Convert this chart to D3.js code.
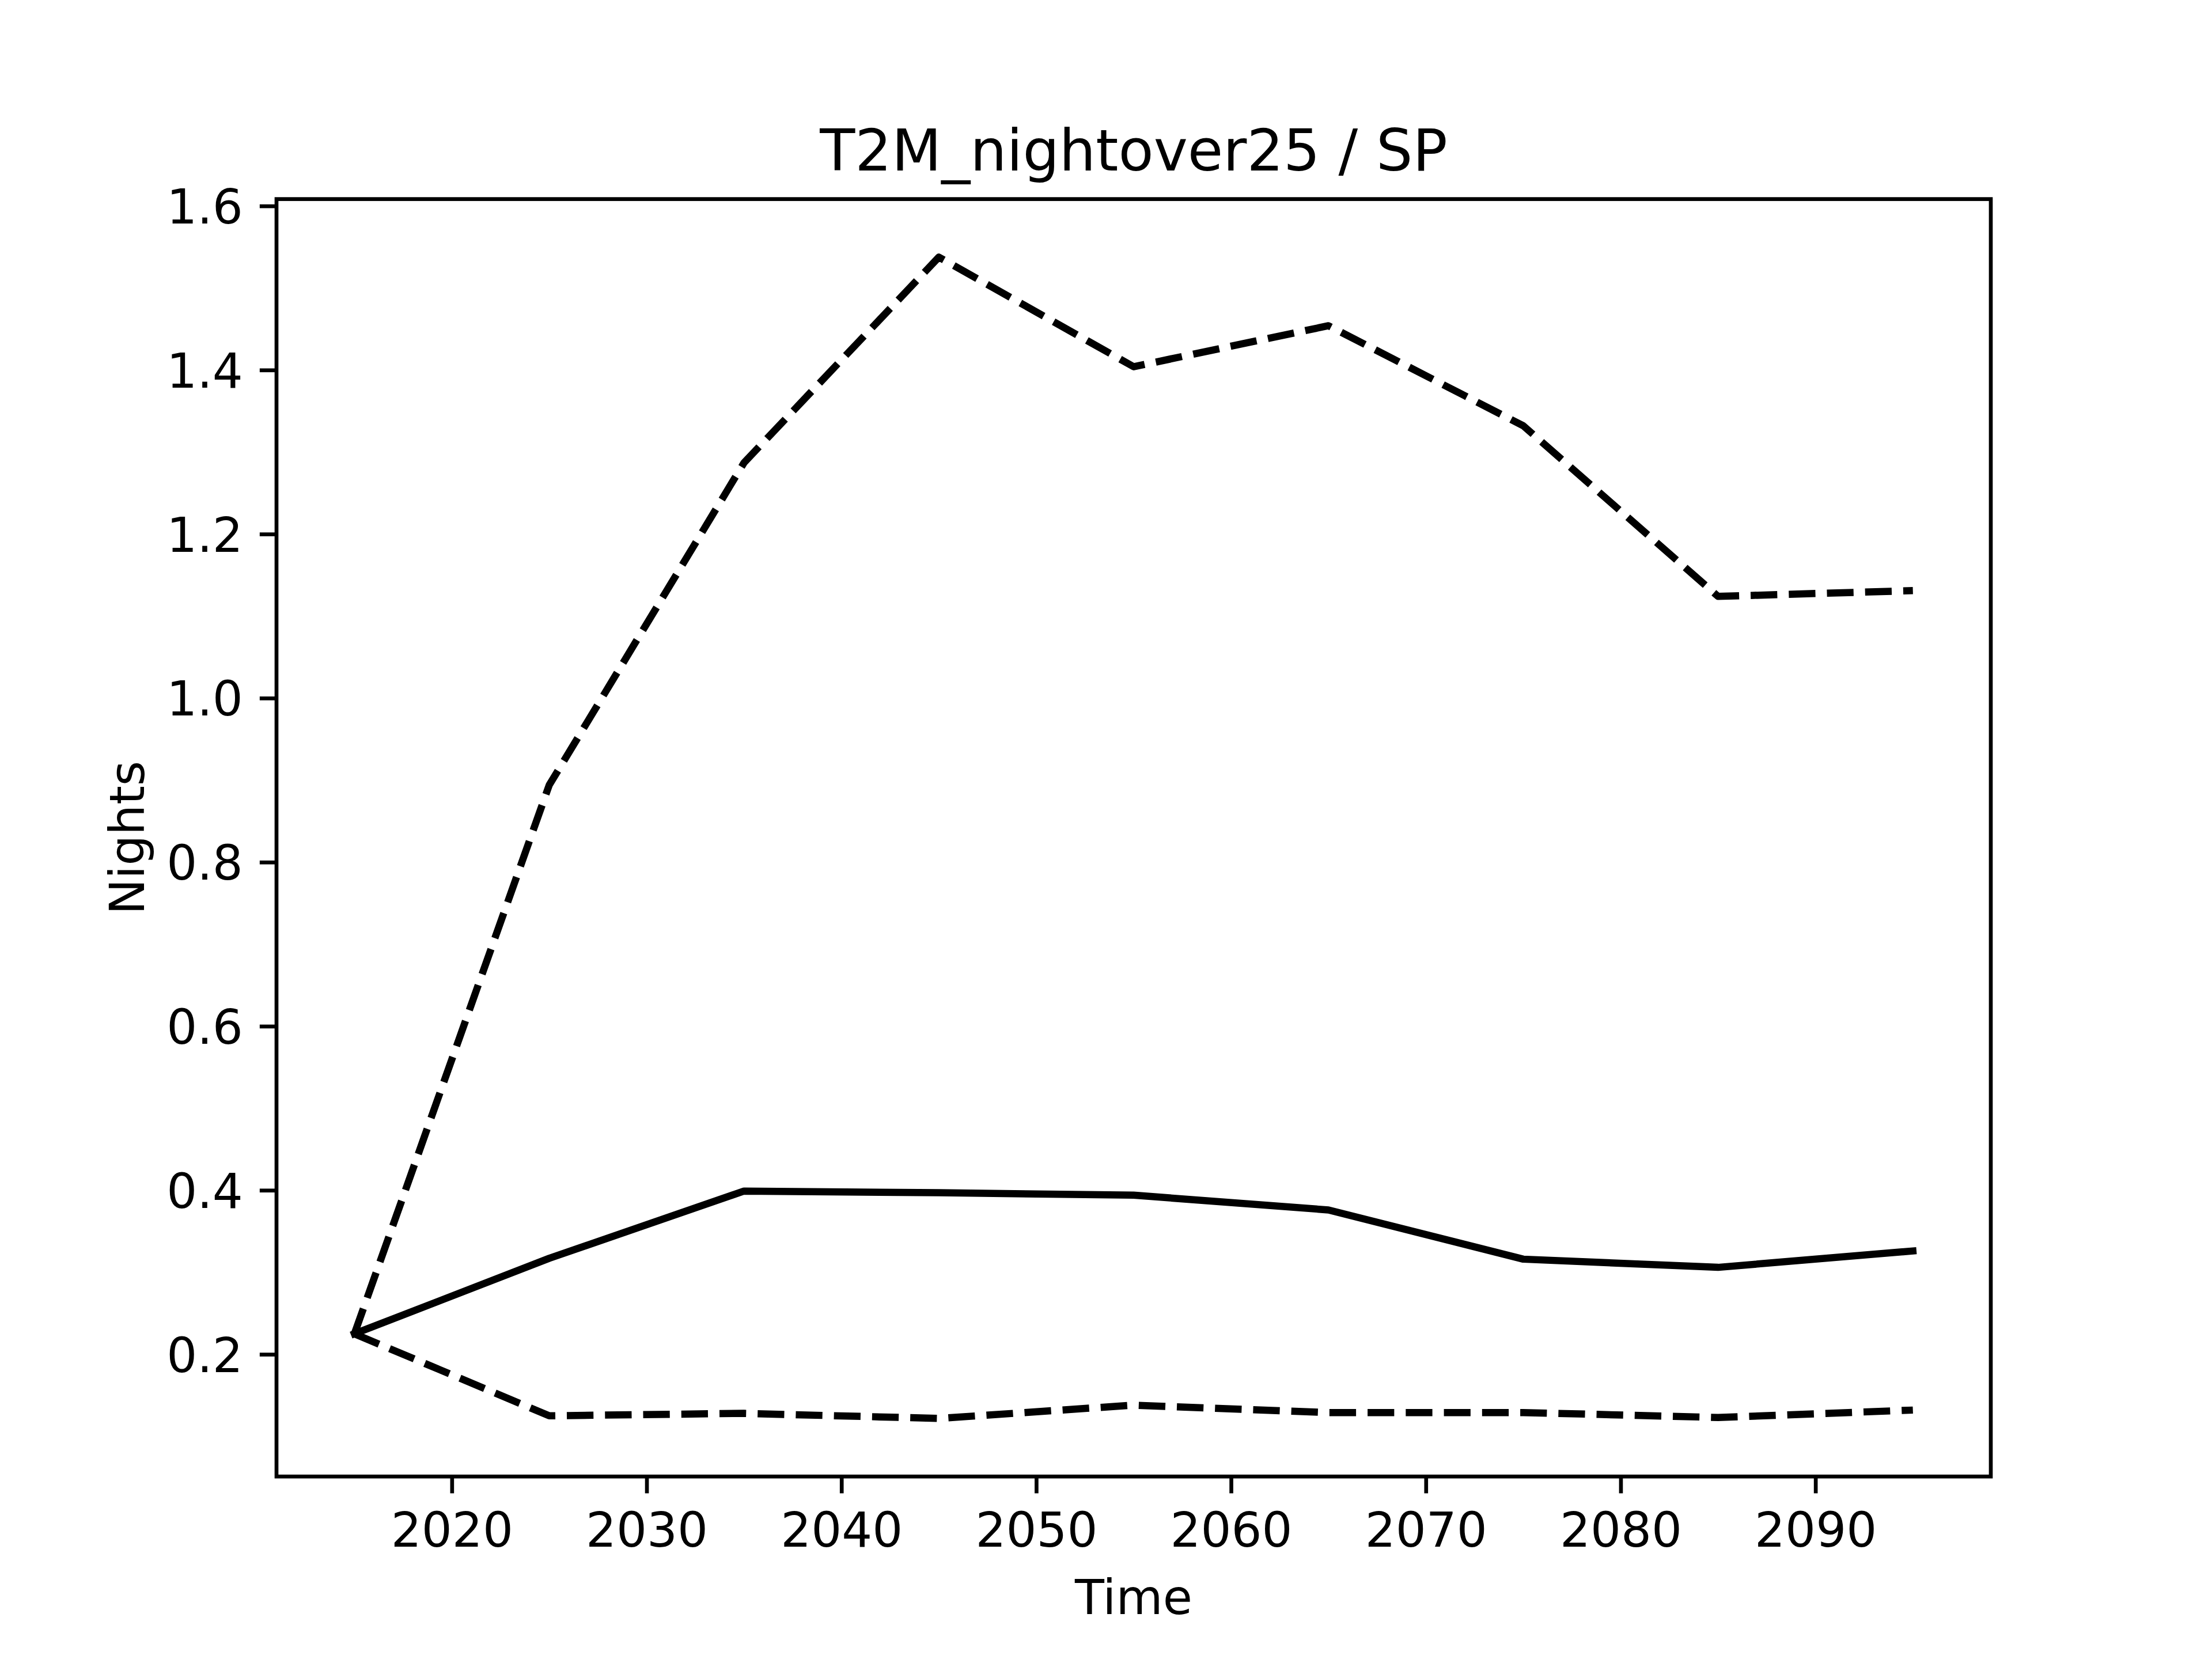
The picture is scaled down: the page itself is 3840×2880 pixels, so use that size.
<!DOCTYPE html>
<html><head><meta charset="utf-8">
<script src="https://cdn.jsdelivr.net/npm/d3@7"></script>
<style>html,body{margin:0;padding:0;background:#fff;}</style>
</head><body>
<script>
const years = [2015, 2025, 2035, 2045, 2055, 2065, 2075, 2085, 2095];
const meanVals = [0.225, 0.317, 0.399, 0.397, 0.394, 0.376, 0.316, 0.306, 0.326];
const upperVals = [0.225, 0.894, 1.287, 1.5376, 1.404, 1.454, 1.332, 1.124, 1.131];
const lowerVals = [0.225, 0.125, 0.128, 0.1218, 0.138, 0.129, 0.129, 0.123, 0.132];
const xTicks = [2020, 2030, 2040, 2050, 2060, 2070, 2080, 2090];
const yTicks = [0.2, 0.4, 0.6, 0.8, 1.0, 1.2, 1.4, 1.6];
const titleText = "T2M_nightover25 / SP";
const xLabel = "Time";
const yLabel = "Nights";

const W = 3840, H = 2880;
const L = 480, R = 3456, T = 345.6, B = 2563.2;
const pt = 600/72;
const font = "DejaVu Sans, sans-serif";

const svg = d3.select("body").append("svg").attr("width", W).attr("height", H)
  .style("display","block").style("background","#fff");

const allVals = meanVals.concat(upperVals, lowerVals);
const xmin = d3.min(years), xmax = d3.max(years);
const ymin = d3.min(allVals), ymax = d3.max(allVals);
const xm = (xmax - xmin) * 0.05, ym = (ymax - ymin) * 0.05;
const x = d3.scaleLinear().domain([xmin - xm, xmax + xm]).range([L, R]);
const y = d3.scaleLinear().domain([ymin - ym, ymax + ym]).range([B, T]);

const line = d3.line().x((d, i) => x(years[i])).y(d => y(d));
const g = svg.append("g");
const lw = 1.5 * pt;
g.append("path").attr("d", line(upperVals)).attr("fill","none").attr("stroke","#000")
  .attr("stroke-width", lw).attr("stroke-dasharray", `${3.7*lw} ${1.6*lw}`)
  .attr("stroke-linecap","butt").attr("stroke-linejoin","round");
g.append("path").attr("d", line(lowerVals)).attr("fill","none").attr("stroke","#000")
  .attr("stroke-width", lw).attr("stroke-dasharray", `${3.7*lw} ${1.6*lw}`)
  .attr("stroke-linecap","butt").attr("stroke-linejoin","round");
g.append("path").attr("d", line(meanVals)).attr("fill","none").attr("stroke","#000")
  .attr("stroke-width", lw).attr("stroke-linecap","square").attr("stroke-linejoin","round");

const fs = 10 * pt;
const tickLen = 3.5 * pt, tickW = 0.8 * pt, pad = 3.5 * pt;

const xAxis = svg.append("g").attr("transform", `translate(0,${B})`)
  .call(d3.axisBottom(x).tickValues(xTicks).tickFormat(d3.format("d")).tickSize(tickLen).tickPadding(pad));
const yAxis = svg.append("g").attr("transform", `translate(${L},0)`)
  .call(d3.axisLeft(y).tickValues(yTicks).tickFormat(d3.format(".1f")).tickSize(tickLen).tickPadding(pad));
[xAxis, yAxis].forEach(a => {
  a.select(".domain").remove();
  a.selectAll(".tick line").attr("stroke","#000").attr("stroke-width", tickW);
  a.selectAll(".tick text").attr("font-family", font).attr("font-size", fs).attr("fill","#000");
});
xAxis.selectAll(".tick text").attr("dy", "0.76em");
yAxis.selectAll(".tick text").attr("dy", "0.36em");

svg.append("rect").attr("x", L).attr("y", T).attr("width", R - L).attr("height", B - T)
  .attr("fill","none").attr("stroke","#000").attr("stroke-width", tickW);

svg.append("text").attr("x", (L + R) / 2).attr("y", T - 6 * pt).attr("text-anchor","middle")
  .attr("font-family", font).attr("font-size", 12 * pt).attr("fill","#000").text(titleText);
svg.append("text").attr("x", (L + R) / 2).attr("y", 2802).attr("text-anchor","middle")
  .attr("font-family", font).attr("font-size", fs).attr("fill","#000").text(xLabel);
svg.append("text").attr("transform", `translate(250,${(T + B) / 2}) rotate(-90)`).attr("text-anchor","middle")
  .attr("font-family", font).attr("font-size", fs).attr("fill","#000").text(yLabel);
</script>
</body></html>
